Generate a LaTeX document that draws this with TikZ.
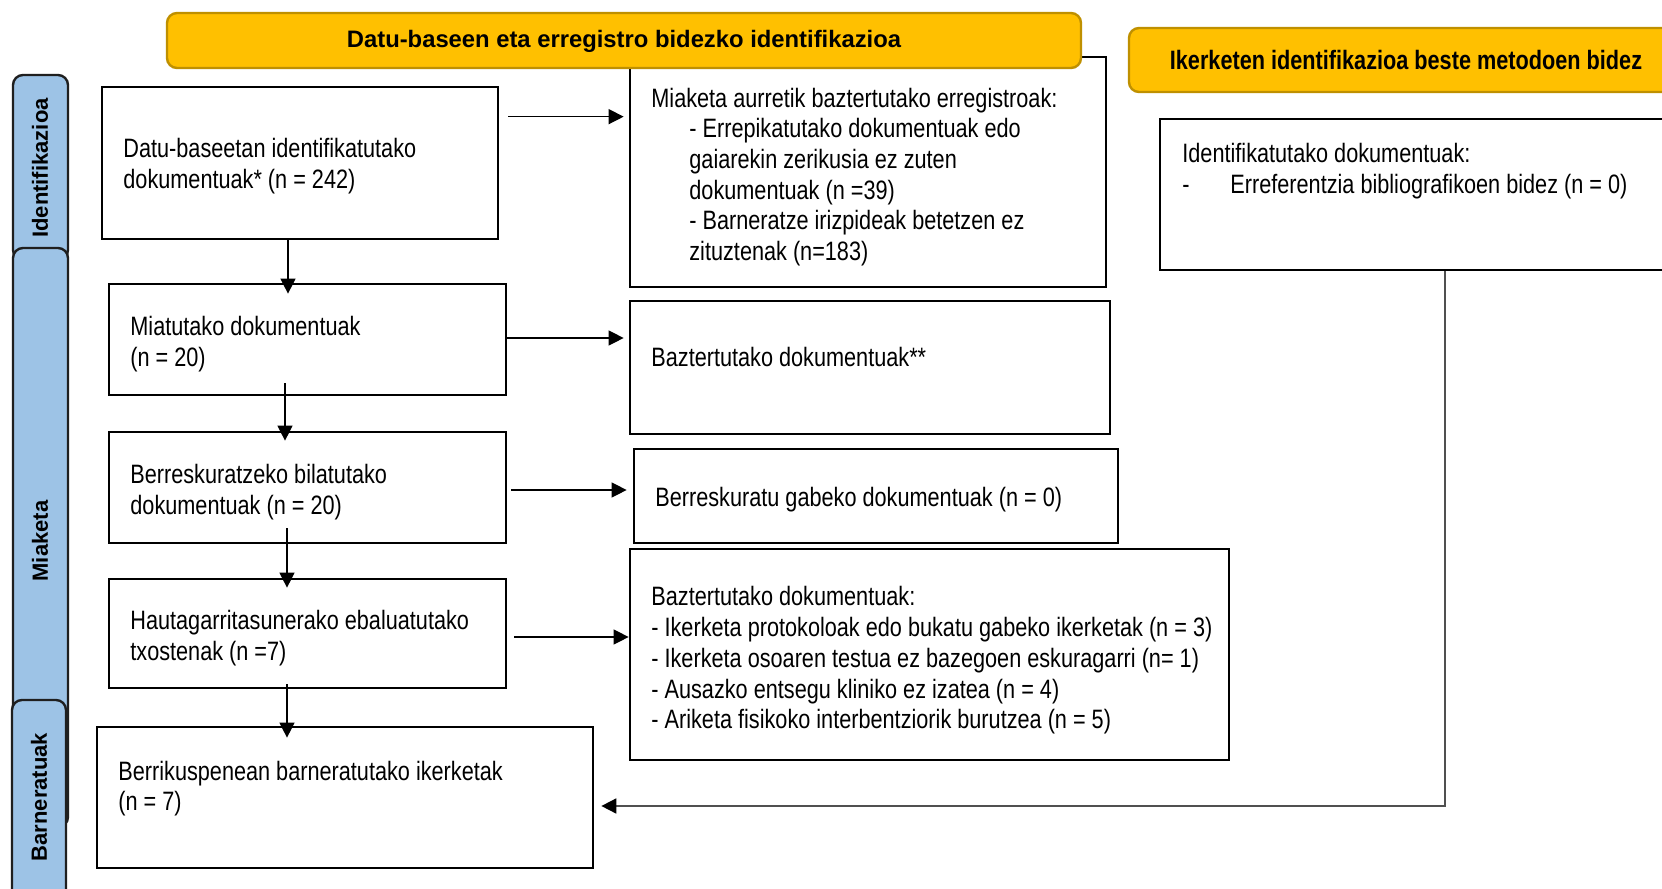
\documentclass[tikz,border=0pt]{standalone}
\usepackage{fontspec}
\setmainfont{Liberation Sans}
\newfontfamily\narrowfont[FakeStretch=0.815]{Liberation Sans}
\usetikzlibrary{arrows.meta,fit,calc}
\definecolor{hdrfill}{HTML}{FFC000}
\definecolor{hdrdraw}{HTML}{BF9000}
\definecolor{tabfill}{HTML}{9DC3E6}
\definecolor{tabdraw}{HTML}{1F1F1F}
\definecolor{linkgray}{HTML}{505050}
\begin{document}
\begin{tikzpicture}[x=0.5pt,y=-0.5pt,
 box/.style={draw=black,line width=1.35pt,inner sep=0pt,fill=white},
 hdr/.style={draw=hdrdraw,line width=1.2pt,fill=hdrfill,rounded corners=5pt,inner sep=0pt},
 tabbox/.style={draw=tabdraw,line width=1.2pt,fill=tabfill,rounded corners=5pt,inner sep=0pt},
 body/.style={inner sep=0pt,align=left,font=\narrowfont\fontsize{13.3}{15.35}\selectfont,anchor=west},
 tablbl/.style={rotate=90,font=\bfseries\fontsize{11}{13}\selectfont,inner sep=0pt},
 arr/.style={line width=0.65pt,-{Triangle[length=7.5pt,width=7.5pt]}},
 arrgray/.style={draw=linkgray,line width=0.85pt,-{Triangle[length=7.5pt,width=7.5pt,color=black]}},
]
\clip (0,0) rectangle (1662,889);
\fill[white] (0,0) rectangle (1662,889);

% side tabs
\node[tabbox,fit={(13,75) (68,260)}] (tI) {};
\node[tablbl] (tIl) at (40,168) {Identifikazioa};
\node[tabbox,fit={(13,248) (68,827)}] (tM) {};
\node[tablbl] (tMl) at (40,541) {Miaketa};
\node[tabbox,fit={(12,700) (66,900)}] (tB) {};
\node[tablbl] (tBl) at (39,797) {Barneratuak};

% boxes
\node[box,fit={(102,87) (498,239)}] (A) {};
\node[box,fit={(109,284) (506,395)}] (B) {};
\node[box,fit={(109,432) (506,543)}] (C) {};
\node[box,fit={(109,579) (506,688)}] (D) {};
\node[box,fit={(97,727) (593,868)}] (E) {};
\node[box,fit={(630,57) (1106,287)}] (F) {};
\node[box,fit={(630,301) (1110,434)}] (G) {};
\node[box,fit={(634,449) (1118,543)}] (H) {};
\node[box,fit={(630,549) (1229,760)}] (I) {};
\node[box,fit={(1160,119) (1700,270)}] (J) {};

% headers
\node[hdr,fit={(167,13) (1081,68)}] (h1) {};
\node[font=\bfseries\fontsize{11.9}{14}\selectfont,inner sep=0pt] (h1t) at (624,41) {Datu-baseen eta erregistro bidezko identifikazioa};
\node[hdr,fit={(1129,28) (1720,92)}] (h2) {};
\node[font=\narrowfont\bfseries\fontsize{13.3}{15}\selectfont,inner sep=0pt] (h2t) at (1406,60) {Ikerketen identifikazioa beste metodoen bidez};

% texts
\node[body] (tA) at (123,166) {Datu-baseetan identifikatutako\\dokumentuak* (n = 242)};
\node[body] (tF) at (651,177) {Miaketa aurretik baztertutako erregistroak:\\\hspace*{19pt}- Errepikatutako dokumentuak edo\\\hspace*{19pt}gaiarekin zerikusia ez zuten\\\hspace*{19pt}dokumentuak (n =39)\\\hspace*{19pt}- Barneratze irizpideak betetzen ez\\\hspace*{19pt}zituztenak (n=183)};
\node[body] (tB2) at (130,344) {Miatutako dokumentuak\\(n = 20)};
\node[body] (tG) at (651,357) {Baztertutako dokumentuak**};
\node[body] (tC) at (130,492) {Berreskuratzeko bilatutako\\dokumentuak (n = 20)};
\node[body] (tH) at (655,500) {Berreskuratu gabeko dokumentuak (n = 0)};
\node[body] (tD) at (130,638) {Hautagarritasunerako ebaluatutako\\txostenak (n =7)};
\node[body] (tI2) at (651,660.5) {Baztertutako dokumentuak:\\- Ikerketa protokoloak edo bukatu gabeko ikerketak (n = 3)\\- Ikerketa osoaren testua ez bazegoen eskuragarri (n= 1)\\- Ausazko entsegu kliniko ez izatea (n = 4)\\- Ariketa fisikoko interbentziorik burutzea (n = 5)};
\node[body] (tE) at (118,788.5) {Berrikuspenean barneratutako ikerketak\\(n = 7)};
\node[body] (tJ) at (1182,171) {Identifikatutako dokumentuak:\\\makebox[24pt][l]{-}Erreferentzia bibliografikoen bidez (n = 0)};

% vertical arrows
\draw[arr] ($(A.south)+(-12,0)$) -- ($(A.south |- B.north)+(-12,11)$);
\draw[arr] ($(B.south)+(-22.5,-13)$) -- ($(B.south |- C.north)+(-22.5,10)$);
\draw[arr] ($(C.south)+(-20.5,-16)$) -- ($(C.south |- D.north)+(-20.5,10)$);
\draw[arr] ($(D.south)+(-20.5,-5)$) -- ($(D.south |- E.north)+(-20.5,12)$);

% horizontal arrows
\draw[arr] ($(A.north east)+(9,31)$) -- ($(A.north east -| F.west)+(-5,31)$);
\draw[arr] ($(B.east)+(0,-1.5)$) -- ($(B.east -| G.west)+(-5,-1.5)$);
\draw[arr] ($(C.east)+(4,2.5)$) -- ($(C.east -| H.west)+(-6,2.5)$);
\draw[arr] ($(D.east)+(7,3.5)$) -- ($(D.east -| I.west)+(0,3.5)$);

% other methods to included
\draw[arrgray] (J.south -| 1445,0) |- ($(E.east)+(7,8.5)$);
\end{tikzpicture}
\end{document}
